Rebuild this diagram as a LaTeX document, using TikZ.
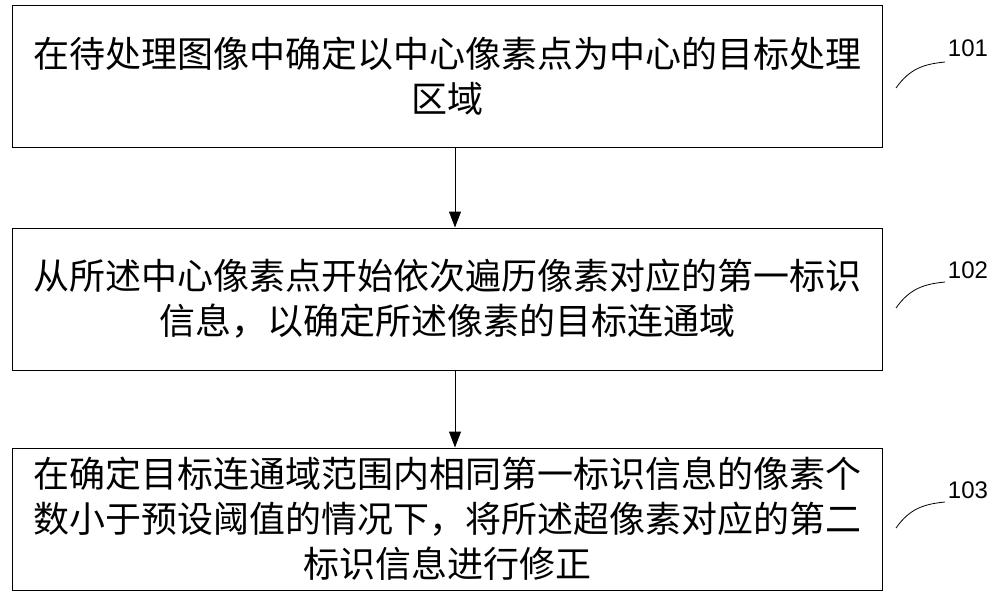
\documentclass[tikz,border=0pt]{standalone}
\usepackage{fontspec}
\newfontfamily\cjk{Noto Sans CJK SC}
\newfontfamily\lab{Liberation Sans}
\usetikzlibrary{arrows.meta}
\begin{document}
\begin{tikzpicture}[x=1pt,y=-1pt,
  stepbox/.style={draw,line width=1pt,minimum width=870pt,minimum height=142pt,align=center,font=\cjk\fontsize{36}{45}\selectfont,inner sep=0pt},
  lbl/.style={font=\lab\fontsize{24}{28}\selectfont},
  arr/.style={-{Triangle[length=16pt,width=12pt]},line width=1pt}]
\useasboundingbox (0,0) rectangle (1000,598);
\node[stepbox] (b1) at (447,76.5) {在待处理图像中确定以中心像素点为中心的目标处理\\区域};
\node[stepbox] (b2) at (447,299) {从所述中心像素点开始依次遍历像素对应的第一标识\\信息，以确定所述像素的目标连通域};
\node[stepbox] (b3) at (447,519) {在确定目标连通域范围内相同第一标识信息的像素个\\数小于预设阈值的情况下，将所述超像素对应的第二\\标识信息进行修正};
\draw[arr] (b1.south -| 455,0) -- (b2.north -| 455,0);
\draw[arr] (b2.south -| 455,0) -- (b3.north -| 455,0);
\node[lbl] (l1) at (968,48) {101};
\node[lbl] (l2) at (968,270) {102};
\node[lbl] (l3) at (968,490) {103};
\coordinate (c1) at (896,88); \coordinate (c2) at (896,308); \coordinate (c3) at (896,528);
\draw[line width=0.8pt] (c1) .. controls (910,68) and (925,64) .. (945,62);
\draw[line width=0.8pt] (c2) .. controls (910,288) and (925,284) .. (945,282);
\draw[line width=0.8pt] (c3) .. controls (910,508) and (925,504) .. (945,502);
\end{tikzpicture}
\end{document}
